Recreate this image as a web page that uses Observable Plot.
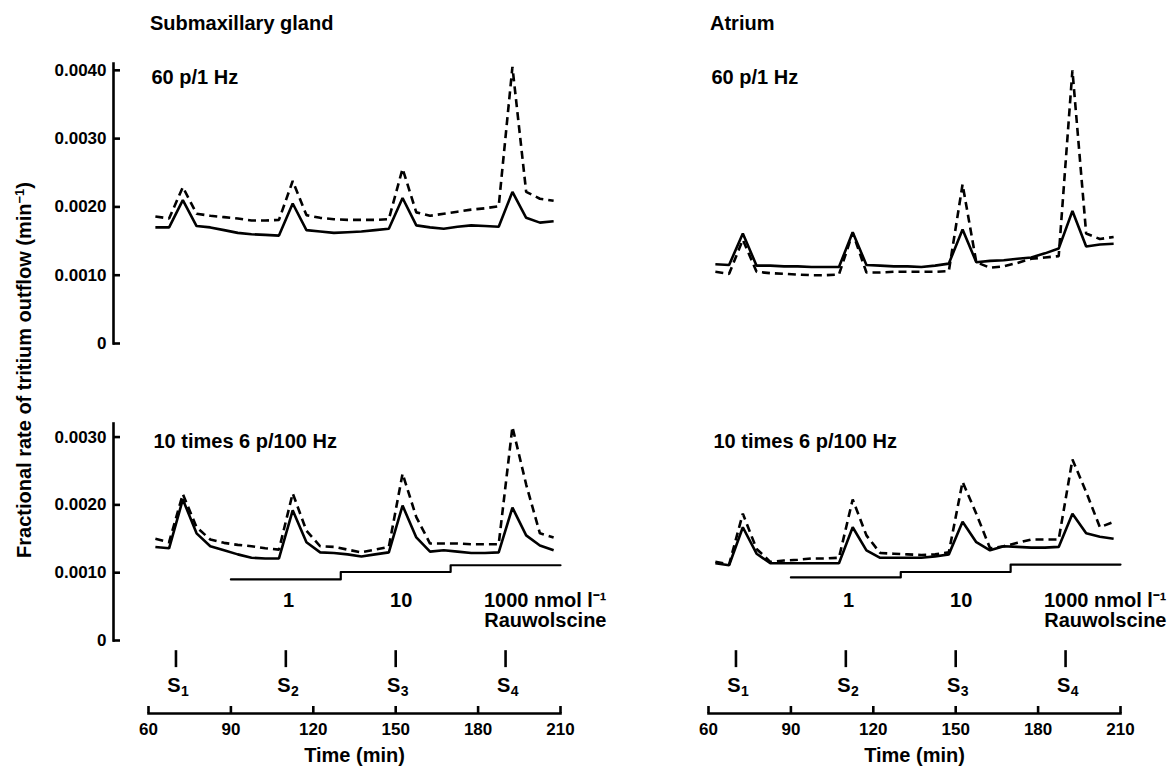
<!DOCTYPE html>
<html>
<head>
<meta charset="utf-8">
<script src="https://cdn.jsdelivr.net/npm/d3@7"></script>
<script src="https://cdn.jsdelivr.net/npm/@observablehq/plot@0.6"></script>
<style>
  body { margin: 0; background: #fff; }
  #wrap { position: relative; width: 1170px; height: 771px; overflow: hidden; background: #fff;
          font-family: "Liberation Sans", Arial, sans-serif; font-weight: bold; color: #000; }
  .abs { position: absolute; }
  .title { font-size: 20px; line-height: 20px; white-space: nowrap; }
  #ylab { font-size: 20px; white-space: nowrap; transform: translate(-50%, -50%) rotate(-90deg); z-index: 5; }
  #ylab sup { font-size: 13px; }
</style>
</head>
<body>
<div id="wrap"></div>
<script>
// ---- data (fractional rate of tritium outflow, min^-1), one value per 5-min fraction ----
const times = [62.5, 67.5, 72.5, 77.5, 82.5, 87.5, 92.5, 97.5, 102.5, 107.5,
               112.5, 117.5, 122.5, 127.5, 132.5, 137.5, 142.5, 147.5, 152.5, 157.5,
               162.5, 167.5, 172.5, 177.5, 182.5, 187.5, 192.5, 197.5, 202.5, 207.5];

const gland60Solid  = [0.00170, 0.00170, 0.00210, 0.00172, 0.00170, 0.00166, 0.00162, 0.00160, 0.00159, 0.00158,
                       0.00205, 0.00166, 0.00164, 0.00162, 0.00163, 0.00164, 0.00166, 0.00168, 0.00213, 0.00173,
                       0.00170, 0.00168, 0.00171, 0.00173, 0.00172, 0.00171, 0.00222, 0.00184, 0.00177, 0.00179];
const gland60Dashed = [0.00186, 0.00183, 0.00229, 0.00190, 0.00187, 0.00185, 0.00183, 0.00180, 0.00180, 0.00181,
                       0.00238, 0.00188, 0.00184, 0.00182, 0.00181, 0.00181, 0.00181, 0.00182, 0.00256, 0.00192,
                       0.00187, 0.00190, 0.00193, 0.00196, 0.00198, 0.00201, 0.00405, 0.00222, 0.00212, 0.00209];
const atrium60Solid  = [0.00116, 0.00115, 0.00161, 0.00114, 0.00114, 0.00113, 0.00113, 0.00112, 0.00112, 0.00112,
                        0.00163, 0.00115, 0.00114, 0.00113, 0.00113, 0.00112, 0.00114, 0.00117, 0.00167, 0.00119,
                        0.00121, 0.00122, 0.00124, 0.00126, 0.00132, 0.00139, 0.00194, 0.00142, 0.00145, 0.00146];
const atrium60Dashed = [0.00105, 0.00102, 0.00152, 0.00105, 0.00103, 0.00102, 0.00101, 0.00100, 0.00100, 0.00101,
                        0.00162, 0.00104, 0.00104, 0.00105, 0.00105, 0.00105, 0.00105, 0.00106, 0.00233, 0.00119,
                        0.00111, 0.00113, 0.00118, 0.00124, 0.00126, 0.00128, 0.00400, 0.00161, 0.00153, 0.00156];
const gland10Solid  = [0.00138, 0.00136, 0.00208, 0.00158, 0.00139, 0.00133, 0.00127, 0.00122, 0.00121, 0.00121,
                       0.00192, 0.00145, 0.00130, 0.00129, 0.00127, 0.00124, 0.00127, 0.00130, 0.00199, 0.00152,
                       0.00131, 0.00133, 0.00131, 0.00129, 0.00129, 0.00130, 0.00196, 0.00155, 0.00140, 0.00133];
const gland10Dashed = [0.00150, 0.00145, 0.00216, 0.00167, 0.00149, 0.00144, 0.00141, 0.00139, 0.00136, 0.00134,
                       0.00217, 0.00162, 0.00139, 0.00138, 0.00134, 0.00130, 0.00134, 0.00138, 0.00246, 0.00182,
                       0.00143, 0.00143, 0.00143, 0.00142, 0.00142, 0.00142, 0.00315, 0.00230, 0.00158, 0.00152];
const atrium10Solid  = [0.00114, 0.00111, 0.00167, 0.00128, 0.00114, 0.00114, 0.00114, 0.00114, 0.00114, 0.00114,
                        0.00167, 0.00133, 0.00122, 0.00122, 0.00122, 0.00122, 0.00124, 0.00127, 0.00175, 0.00145,
                        0.00133, 0.00139, 0.00138, 0.00137, 0.00137, 0.00138, 0.00187, 0.00158, 0.00153, 0.00150];
const atrium10Dashed = [0.00116, 0.00112, 0.00187, 0.00135, 0.00116, 0.00118, 0.00119, 0.00121, 0.00121, 0.00122,
                        0.00208, 0.00155, 0.00129, 0.00128, 0.00127, 0.00126, 0.00127, 0.00130, 0.00234, 0.00187,
                        0.00136, 0.00139, 0.00144, 0.00149, 0.00149, 0.00149, 0.00267, 0.00219, 0.00167, 0.00175];

// rauwolscine concentration bar (start of each period and the level drawn)
const stepTimes = [90, 130, 170, 210];
const glandStepLevels  = [0.00090, 0.00101, 0.00111, 0.00111];
const atriumStepLevels = [0.00093, 0.00101, 0.00112, 0.00112];
const concLabels = ["1", "10"];
const concLabelTimes = [111, 152];
const concUnit = "1000 nmol l\u207B\u00B9";
const drugName = "Rauwolscine";

// stimulation periods
const stimTimes = [70, 110, 150, 190];
const stimIndex = ["1", "2", "3", "4"];

// axes
const xTicks = [60, 90, 120, 150, 180, 210];
const yTicksTop = [0, 0.001, 0.002, 0.003, 0.004];
const yTicksBottom = [0, 0.001, 0.002, 0.003];
const titles = ["Submaxillary gland", "Atrium"];
const protocolLabels = ["60 p/1 Hz", "10 times 6 p/100 Hz"];

// ---- layout ----
const FONT = '"Liberation Sans", Arial, sans-serif';
const cols = [
  {left: 0,   width: 620, marginLeft: 113, insetLeft: 35, marginRight: 60, yAxis: true,
   title: titles[0], top: [gland60Solid, gland60Dashed], bottom: [gland10Solid, gland10Dashed], steps: glandStepLevels},
  {left: 620, width: 550, marginLeft: 88, insetLeft: 0, marginRight: 50, yAxis: false,
   title: titles[1], top: [atrium60Solid, atrium60Dashed], bottom: [atrium10Solid, atrium10Dashed], steps: atriumStepLevels}
];
const rows = (vals) => times.map((t, i) => ({t, v: vals[i]}));
const fmtY = (d) => d === 0 ? "0" : d.toFixed(4);
const baseStyle = {fontFamily: FONT, fontWeight: "bold", fontSize: "17px", color: "black", background: "transparent", overflow: "visible"};
const LW = 2.6;

function seriesMarks(solid, dashed) {
  return [
    Plot.line(rows(solid), {x: "t", y: "v", stroke: "black", strokeWidth: LW, strokeLinejoin: "miter", strokeLinecap: "butt"}),
    Plot.line(rows(dashed), {x: "t", y: "v", stroke: "black", strokeWidth: LW, strokeDasharray: "8,5", strokeLinejoin: "miter", strokeLinecap: "butt"})
  ];
}

function topPanel(col) {
  return Plot.plot({
    width: col.width, height: 320, marginTop: 23, marginBottom: 17,
    marginLeft: col.marginLeft, marginRight: col.marginRight, insetLeft: col.insetLeft,
    x: {domain: [60, 210], axis: null},
    y: {domain: [0, 0.0041], axis: col.yAxis ? undefined : null, label: null},
    style: baseStyle,
    marks: [
      col.yAxis ? Plot.axisY(yTicksTop, {tickSize: -7, tickPadding: 14, tickFormat: fmtY, strokeWidth: LW, label: null, fontSize: 17}) : null,
      col.yAxis ? Plot.frame({anchor: "left", strokeWidth: LW}) : null,
      ...seriesMarks(col.top[0], col.top[1]),
      Plot.text([protocolLabels[0]], {x: 60, y: 0.0039, text: (d) => d, textAnchor: "start", dx: 3, fontSize: 20})
    ]
  });
}

function bottomPanel(col) {
  const stepRows = stepTimes.map((t, i) => ({t, v: col.steps[i]}));
  return Plot.plot({
    width: col.width, height: 371, marginTop: 23, marginBottom: 58, insetBottom: 73,
    marginLeft: col.marginLeft, marginRight: col.marginRight, insetLeft: col.insetLeft,
    x: {domain: [60, 210], label: null},
    y: {domain: [0, 0.0032], axis: col.yAxis ? undefined : null, label: null},
    style: baseStyle,
    marks: [
      col.yAxis ? Plot.axisY(yTicksBottom, {tickSize: -7, tickPadding: 14, tickFormat: fmtY, strokeWidth: LW, label: null, fontSize: 17}) : null,
      col.yAxis ? Plot.frame({anchor: "left", insetBottom: 73, strokeWidth: LW}) : null,
      Plot.axisX(xTicks, {tickSize: -7, tickPadding: 16, strokeWidth: LW, label: null, fontSize: 17}),
      Plot.frame({anchor: "bottom", insetLeft: col.insetLeft, strokeWidth: LW}),
      ...seriesMarks(col.bottom[0], col.bottom[1]),
      Plot.line(stepRows, {x: "t", y: "v", curve: "step-after", stroke: "black", strokeWidth: 2.2}),
      Plot.text(concLabels, {x: (d, i) => concLabelTimes[i], y: 0.00059, text: (d) => d, fontSize: 20}),
      Plot.text([concUnit], {x: 210, y: 0.00059, text: (d) => d, textAnchor: "end", dx: 46, fontSize: 20}),
      Plot.text([drugName], {x: 210, y: 0.00029, text: (d) => d, textAnchor: "end", dx: 46, fontSize: 20}),
      Plot.ruleX(stimTimes, {x: (d) => d, y1: -0.00015, y2: -0.0004, stroke: "black", strokeWidth: LW}),
      Plot.text(stimTimes, {x: (d) => d, y: -0.00066, text: () => "S", dx: -2, fontSize: 20}),
      Plot.text(stimTimes, {x: (d) => d, y: -0.00066, text: (d, i) => stimIndex[i], dx: 9, dy: 6, fontSize: 14}),
      Plot.text(["Time (min)"], {x: d3.mean([60, 210]), frameAnchor: "bottom", dy: 48, text: (d) => d, fontSize: 20}),
      Plot.text([protocolLabels[1]], {x: 60, y: 0.00293, text: (d) => d, textAnchor: "start", dx: 5, fontSize: 20})
    ]
  });
}

const wrap = document.getElementById("wrap");
function place(node, left, top) {
  const d = document.createElement("div");
  d.className = "abs";
  d.style.left = left + "px";
  d.style.top = top + "px";
  d.appendChild(node);
  wrap.appendChild(d);
  return d;
}
cols.forEach((col, ci) => {
  place(topPanel(col), col.left, 40);
  place(bottomPanel(col), col.left, 400);
  const t = document.createElement("div");
  t.className = "abs title";
  t.textContent = col.title;
  t.style.left = (col.left + col.marginLeft + col.insetLeft + 2) + "px";
  t.style.top = "13px";
  wrap.appendChild(t);
});
const yl = document.createElement("div");
yl.id = "ylab";
yl.className = "abs";
yl.style.left = "24px";
yl.style.top = "370px";
yl.innerHTML = "Fractional rate of tritium outflow (min<sup>\u22121</sup>)";
wrap.appendChild(yl);
</script>
</body>
</html>
